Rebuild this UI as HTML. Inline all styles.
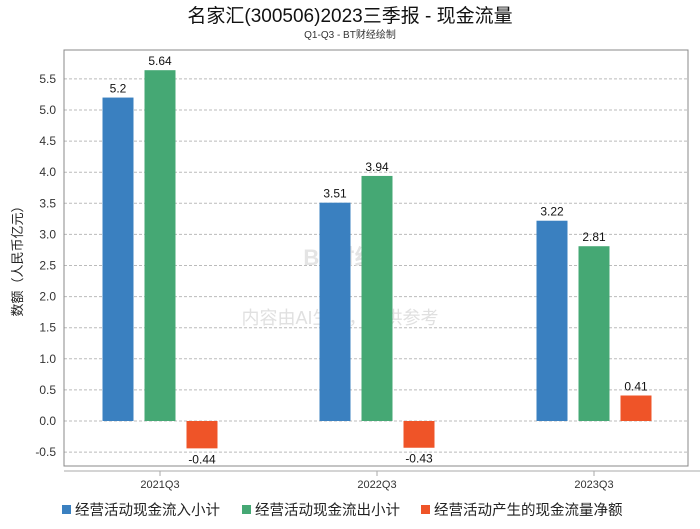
<!DOCTYPE html>
<html><head><meta charset="utf-8"><style>
body{margin:0;background:#fff;}
svg text{font-family:"Liberation Sans","Noto Sans CJK SC",sans-serif;}
</style></head><body>
<svg width="700" height="524" viewBox="0 0 700 524">
<text x="350" y="22" text-anchor="middle" font-size="19" fill="#111">名家汇(300506)2023三季报 - 现金流量</text>
<text x="350" y="38" text-anchor="middle" font-size="10" fill="#333">Q1-Q3 - BT财经绘制</text>
<g id="grid"></g>
<rect x="64" y="50" width="624" height="416" fill="none" stroke="#888" stroke-width="1"/>
<line x1="64" y1="471" x2="700" y2="471" stroke="#aaa"/>
<text transform="translate(22,258) rotate(-90)" text-anchor="middle" font-size="13" fill="#222">数额（人民币亿元）</text>
<text x="340" y="265" text-anchor="middle" font-size="22" font-weight="bold" fill="#e4e4e4">BT财经</text>
<text x="340" y="324" text-anchor="middle" font-size="18" fill="#e0e0e0">内容由AI生成，仅供参考</text>
<g id="bars"></g>
<g id="legend"></g>
</svg>
<script>
const categories=["2021Q3","2022Q3","2023Q3"];
const inflow=[5.2,3.51,3.22];
const outflow=[5.64,3.94,2.81];
const net=[-0.44,-0.43,0.41];
const yTicks=[-0.5,0,0.5,1,1.5,2,2.5,3,3.5,4,4.5,5,5.5];
const seriesNames=["经营活动现金流入小计","经营活动现金流出小计","经营活动产生的现金流量净额"];
const colors=["#3a80c0","#45a874","#ef5428"];
const NS="http://www.w3.org/2000/svg";
function y(v){return 421-v*62.2;}
function xc(i){return 160+217*i;}
function mk(tag,attrs,parent){const e=document.createElementNS(NS,tag);for(const k in attrs)e.setAttribute(k,attrs[k]);parent.appendChild(e);return e;}
const grid=document.getElementById('grid');
yTicks.forEach(t=>{
  const l=mk('line',{x1:64,x2:688,y1:y(t),y2:y(t),stroke:'#bbb','stroke-dasharray':'3,2'},grid);
  
  
  const tx=mk('text',{x:56,y:y(t)+4,'text-anchor':'end','font-size':12,fill:'#333'},grid);
  tx.textContent=t.toFixed(1);
  
  
});
const bars=document.getElementById('bars');
const series=[inflow,outflow,net];
categories.forEach((c,i)=>{
  const tk=mk('line',{x1:xc(i),x2:xc(i),y1:471,y2:476,stroke:'#aaa'},bars);
  
  
  const lb=mk('text',{x:xc(i),y:488,'text-anchor':'middle','font-size':11,fill:'#333'},bars);
  lb.textContent=c;
  
  
  series.forEach((s,j)=>{
    const v=s[i];const cx=xc(i)+(j-1)*42;
    const top=Math.min(y(v),y(0)),h=Math.abs(y(v)-y(0));
    const r=mk('rect',{x:cx-15.5,y:top,width:31,height:h,fill:colors[j]},bars);
    
    
    const t=mk('text',{x:cx,y:v>=0?y(v)-5:y(v)+15,'text-anchor':'middle','font-size':12,fill:'#111'},bars);
    t.textContent=String(v);
    
    
  });
});
const lg=document.getElementById('legend');
const lx=[62,242,421];
seriesNames.forEach((n,j)=>{
  const r=mk('rect',{x:lx[j],y:505,width:9,height:9,fill:colors[j]},lg);
  
  
  const t=mk('text',{x:lx[j]+13,y:515,'font-size':14.5,fill:'#222'},lg);
  t.textContent=n;
  
  
});
</script>
</body></html>
